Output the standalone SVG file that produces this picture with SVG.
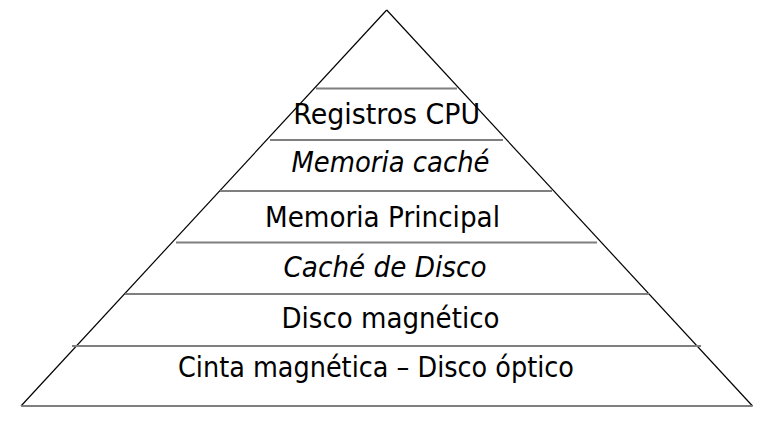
<svg xmlns="http://www.w3.org/2000/svg" width="781" height="439" viewBox="0 0 781 439">
<style>
.bg{fill:#ffffff}
.side{stroke:#000000;stroke-width:1.2;fill:none}
.tier{stroke:#7f7f7f;stroke-width:2;fill:none}
.lbl{font-family:"DejaVu Sans",Verdana,sans-serif;font-size:28px;fill:#000000;text-anchor:middle}
.it{font-style:italic}
</style>
<rect class="bg" x="0" y="0" width="781" height="439"/>
<g id="connectors">
<line class="side" x1="386.7" y1="10" x2="21" y2="406"/>
<line class="side" x1="386.7" y1="10" x2="752.5" y2="406"/>
<line class="tier" x1="316" y1="88.5" x2="457" y2="88.5"/>
<line class="tier" x1="270" y1="140" x2="503" y2="140"/>
<line class="tier" x1="220" y1="191" x2="552" y2="191"/>
<line class="tier" x1="176" y1="242.5" x2="597" y2="242.5"/>
<line class="tier" x1="125" y1="294" x2="649" y2="294"/>
<line class="tier" x1="72" y1="346" x2="701" y2="346"/>
<line class="tier" x1="21" y1="406" x2="752.5" y2="406"/>
</g>
<g id="registros"><text class="lbl" x="386.7" y="123.5" textLength="187" lengthAdjust="spacingAndGlyphs">Registros CPU</text></g>
<g id="memoria-cache"><text class="lbl it" x="390.5" y="172" textLength="198" lengthAdjust="spacingAndGlyphs">Memoria caché</text></g>
<g id="memoria-principal"><text class="lbl" x="382.5" y="227" textLength="235" lengthAdjust="spacingAndGlyphs">Memoria Principal</text></g>
<g id="cache-disco"><text class="lbl it" x="385" y="277" textLength="203" lengthAdjust="spacingAndGlyphs">Caché de Disco</text></g>
<g id="disco-magnetico"><text class="lbl" x="390.5" y="327.5" textLength="218" lengthAdjust="spacingAndGlyphs">Disco magnético</text></g>
<g id="cinta"><text class="lbl" x="376" y="376.5" textLength="396" lengthAdjust="spacingAndGlyphs">Cinta magnética – Disco óptico</text></g>
</svg>
